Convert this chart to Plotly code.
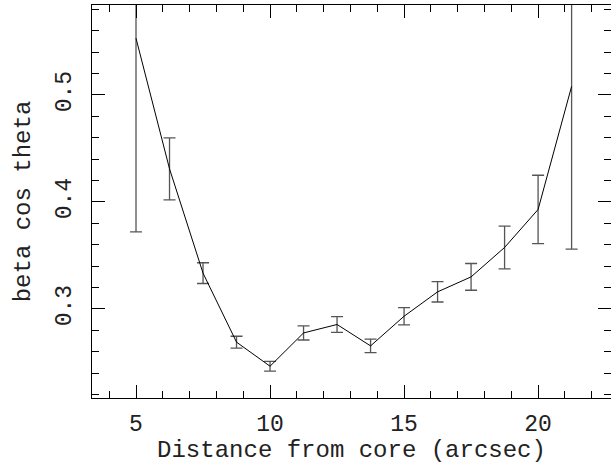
import plotly.graph_objects as go

distance = [5, 6.25, 7.5, 8.75, 10, 11.25, 12.5, 13.75, 15, 16.25, 17.5, 18.75, 20, 21.25]
beta_cos = [0.553, 0.431, 0.3335, 0.269, 0.2465, 0.2776, 0.2855, 0.2655, 0.2932, 0.316, 0.330, 0.3575, 0.393, 0.508]
err = [0.181, 0.029, 0.0097, 0.0055, 0.0045, 0.0066, 0.0073, 0.0063, 0.008, 0.0095, 0.0125, 0.020, 0.032, 0.152]

FONT = "Liberation Mono"
TXT = "#222222"

fig = go.Figure()
fig.add_trace(go.Scatter(
    x=distance, y=beta_cos, mode="lines",
    line=dict(color="black", width=1),
    error_y=dict(type="data", array=err, visible=True, color="#555555", thickness=1.3, width=6),
    showlegend=False,
))

axis_common = dict(
    showgrid=False, zeroline=False, showline=True, linecolor="black", linewidth=1,
    mirror="allticks", ticks="inside", ticklen=13, tickcolor="black", tickwidth=1,
    tickfont=dict(family=FONT, size=23, color=TXT),
)

fig.update_xaxes(
    range=[3.358, 22.72], tickmode="array", tickvals=[5, 10, 15, 20], ticktext=["5", "10", "15", "20"],
    ticklabelstandoff=4,
    minor=dict(dtick=1, tick0=0, ticks="inside", ticklen=7, tickcolor="black"),
    title=dict(text="Distance from core (arcsec)", font=dict(family=FONT, size=24, color=TXT), standoff=0),
    **axis_common,
)
fig.update_yaxes(
    range=[0.2168, 0.5841], tickmode="array", tickvals=[0.3, 0.4, 0.5], ticktext=["0.3", "0.4", "0.5"],
    tickangle=-90, ticklabelstandoff=11,
    minor=dict(dtick=0.02, tick0=0, ticks="inside", ticklen=7, tickcolor="black"),
    title=dict(text="beta cos theta", font=dict(family=FONT, size=24, color=TXT), standoff=14),
    **axis_common,
)

fig.update_layout(
    width=611, height=464,
    margin=dict(l=92, r=0, t=5, b=66),
    plot_bgcolor="white", paper_bgcolor="white",
)

fig.write_html("out.html")
